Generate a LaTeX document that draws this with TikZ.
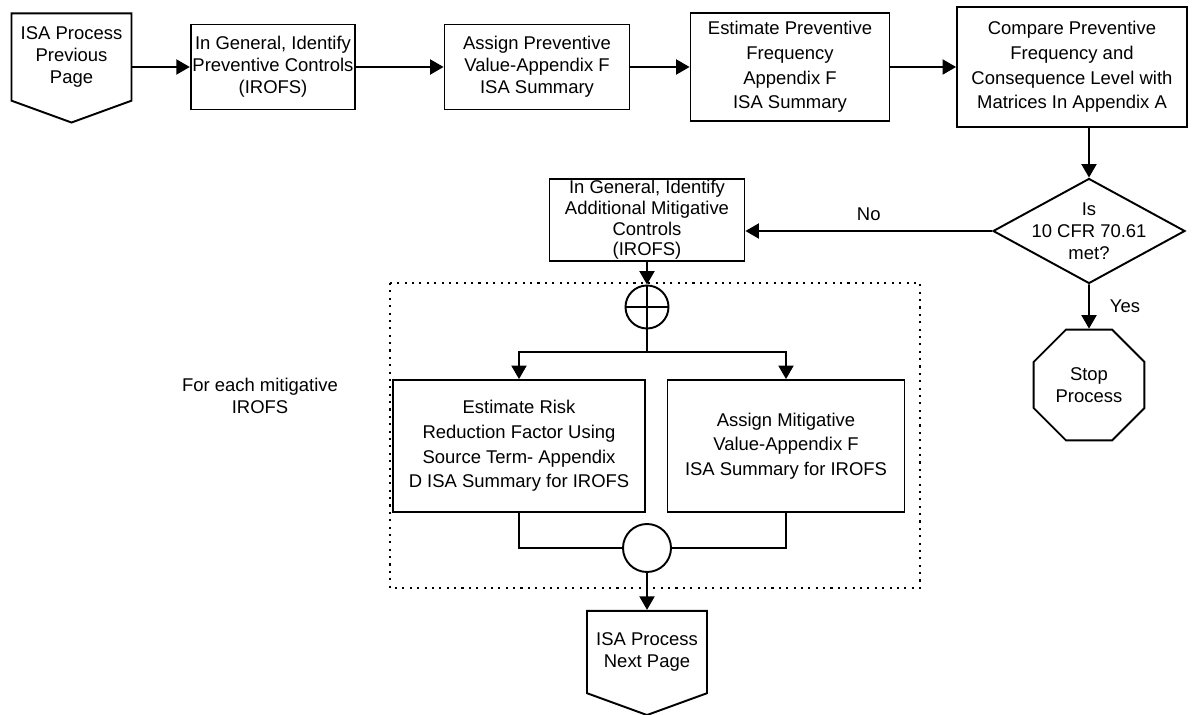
\documentclass[tikz,border=0pt]{standalone}
\usepackage{fontspec}
\setmainfont{Liberation Sans}
\usetikzlibrary{arrows,shapes,positioning}

\begin{document}
\begin{tikzpicture}[>=triangle 60,line width=1.1pt,
	font=\fontsize{10.5}{12.5}\selectfont,
	Edge/.style={->,black},
	Box/.style={rectangle,draw=black,align=center,inner sep=1pt},
	Wide/.style={font=\fontsize{10.5}{14}\selectfont},
	Page/.style={signal,signal to=south,signal from=nowhere,signal pointer angle=140,draw=black,align=center,minimum width=2.4cm},
	Decision/.style={diamond,draw=black,inner sep=0pt,minimum width=3.84cm,minimum height=2.1cm},
	Stop/.style={regular polygon,regular polygon sides=8,draw=black,minimum size=2.4cm,align=center},
	Junction/.style={circle,draw=black,inner sep=0pt},
	Frame/.style={line width=0.6pt,dash pattern=on 1.2pt off 3pt},
]
	\useasboundingbox (-5.46,1.34) rectangle (18.44,-12.96);

	% top row
	\node[Box, minimum width=3.26cm, minimum height=1.7cm] (B2) {In General, Identify\\Preventive Controls\\(IROFS)};
	\node[Page, minimum height=2.16cm] (prev) [left of=B2, node distance=4.03cm, yshift=0.2cm] {ISA Process\\Previous\\Page};
	\node[Box, minimum width=3.7cm, minimum height=1.7cm] (B3) [right of=B2, node distance=5.28cm] {Assign Preventive\\Value-Appendix F\\ISA Summary};
	\node[Box, Wide, minimum width=3.98cm, minimum height=2.16cm] (B4) [right of=B3, node distance=5.06cm] {Estimate Preventive\\Frequency\\Appendix F\\ISA Summary};
	\node[Box, Wide, minimum width=4.6cm, minimum height=2.4cm] (B5) [right of=B4, node distance=5.64cm] {Compare Preventive\\Frequency and\\Consequence Level with\\Matrices In Appendix A};

	% decision
	\node[Decision, label={[align=center]center:Is\\10 CFR 70.61\\met?}] (Q) [below of=B5, node distance=3.28cm, xshift=0.34cm] {};
	\node[Stop] (stop) [below of=Q, node distance=3.08cm] {Stop\\Process};

	% mitigative loop
	\node[Box, font=\fontsize{10.5}{11.8}\selectfont, minimum width=3.9cm, minimum height=1.5cm] (B6) [left of=Q, node distance=8.84cm, yshift=0.22cm] {In General, Identify\\Additional Mitigative\\Controls\\(IROFS)};
	\node[Junction, minimum size=0.86cm] (fork) [below of=B6, node distance=1.74cm] {};
	\coordinate[below of=fork, node distance=0.9cm] (split);
	\node[Box, Wide, minimum width=5.04cm, minimum height=2.64cm] (B7) [below of=fork, node distance=2.78cm, xshift=-2.56cm] {Estimate Risk\\Reduction Factor Using\\Source Term- Appendix\\D ISA Summary for IROFS};
	\node[Box, Wide, minimum width=4.74cm, minimum height=2.64cm] (B8) [right of=B7, node distance=5.34cm] {Assign Mitigative\\Value-Appendix F\\ISA Summary for IROFS};
	\node[Junction, minimum size=0.96cm] (join) [below of=fork, node distance=4.82cm] {};
	\node[Page, minimum height=2.06cm] (next) [below of=join, node distance=2.08cm] {ISA Process\\Next Page};
	\node[align=center] (each) [left of=B7, node distance=5.18cm, yshift=1cm] {For each mitigative\\IROFS};

	\path[Edge]
	(prev.east |- B2) edge (B2)
	(B2) edge (B3)
	(B3) edge (B4)
	(B4) edge (B5)
	(B5.south -| Q) edge (Q)
	(Q) edge node[above=2pt]{No} (Q.west -| B6.east)
	(Q) edge node[right=8pt]{Yes} (stop)
	(B6) edge (fork)
	(join) edge (next)
	;

	\draw (fork.north) -- (fork.south) (fork.west) -- (fork.east);
	\draw (fork.south) -- (split);
	\draw[Edge] (split) -| (B7.north);
	\draw[Edge] (split) -| (B8.north);
	\draw (B7.south) |- (join.west);
	\draw (B8.south) |- (join.east);

	\draw[Frame] (2.34,-4.32) rectangle (12.94,-10.42);
\end{tikzpicture}
\end{document}
